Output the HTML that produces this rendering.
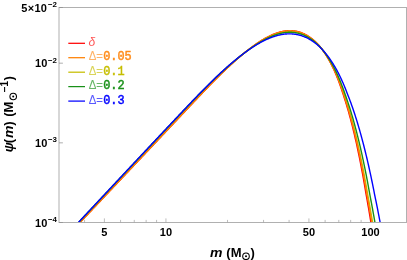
<!DOCTYPE html><html><head><meta charset="utf-8"><style>html,body{margin:0;padding:0;background:#fff}svg{display:block;will-change:transform}</style></head><body><svg width="407" height="260" viewBox="0 0 407 260">
<rect width="407" height="260" fill="#fff"/>
<defs><clipPath id="c"><rect x="59.0" y="7.5" width="347.5" height="214.5"/></clipPath></defs>
<rect x="59.0" y="7.5" width="347.5" height="215.0" fill="none" stroke="#b0b0b0" stroke-width="1"/>
<path d="M104.38,222.5v-4.1M165.95,222.5v-4.1M308.91,222.5v-4.1M370.48,222.5v-4.1M84.55,222.5v-2.6M120.57,222.5v-2.6M134.26,222.5v-2.6M146.13,222.5v-2.6M156.59,222.5v-2.6M227.52,222.5v-2.6M263.54,222.5v-2.6M289.09,222.5v-2.6M325.11,222.5v-2.6M338.80,222.5v-2.6M350.66,222.5v-2.6M361.12,222.5v-2.6" stroke="#a0a0a0" stroke-width="0.7" fill="none"/>
<path d="M59.0,222.50h3.9M59.0,142.84h3.9M59.0,63.18h3.9M59.0,7.50h3.9" stroke="#8c8c8c" stroke-width="0.7" fill="none"/>
<g clip-path="url(#c)" fill="none" stroke-width="1.4" stroke-linejoin="round">
<path d="M69.04,234.09L69.54,233.56L70.04,233.03L70.54,232.50L71.04,231.97L71.54,231.44L72.05,230.90L72.55,230.37L73.05,229.84L73.55,229.31L74.05,228.78L74.55,228.25L75.05,227.72L75.56,227.19L76.06,226.66L76.56,226.13L77.06,225.60L77.56,225.07L78.06,224.54L78.56,224.00L79.07,223.47L79.57,222.94L80.07,222.41L80.57,221.88L81.07,221.35L81.57,220.82L82.07,220.29L82.58,219.76L83.08,219.23L83.58,218.70L84.08,218.17L84.58,217.64L85.08,217.11L85.58,216.57L86.09,216.04L86.59,215.51L87.09,214.98L87.59,214.45L88.09,213.92L88.59,213.39L89.09,212.86L89.60,212.33L90.10,211.80L90.60,211.27L91.10,210.74L91.60,210.21L92.10,209.67L92.60,209.14L93.11,208.61L93.61,208.08L94.11,207.55L94.61,207.02L95.11,206.49L95.61,205.96L96.11,205.43L96.62,204.90L97.12,204.37L97.62,203.84L98.12,203.31L98.62,202.77L99.12,202.24L99.62,201.71L100.13,201.18L100.63,200.65L101.13,200.12L101.63,199.59L102.13,199.06L102.63,198.53L103.13,198.00L103.64,197.47L104.14,196.94L104.64,196.41L105.14,195.87L105.64,195.34L106.14,194.81L106.64,194.28L107.15,193.75L107.65,193.22L108.15,192.69L108.65,192.16L109.15,191.63L109.65,191.10L110.15,190.57L110.66,190.04L111.16,189.51L111.66,188.98L112.16,188.44L112.66,187.91L113.16,187.38L113.66,186.85L114.17,186.32L114.67,185.79L115.17,185.26L115.67,184.73L116.17,184.20L116.67,183.67L117.17,183.14L117.68,182.61L118.18,182.08L118.68,181.54L119.18,181.01L119.68,180.48L120.18,179.95L120.68,179.42L121.19,178.89L121.69,178.36L122.19,177.83L122.69,177.30L123.19,176.77L123.69,176.24L124.19,175.71L124.70,175.18L125.20,174.65L125.70,174.11L126.20,173.58L126.70,173.05L127.20,172.52L127.70,171.99L128.21,171.46L128.71,170.93L129.21,170.40L129.71,169.87L130.21,169.34L130.71,168.81L131.21,168.28L131.72,167.75L132.22,167.21L132.72,166.68L133.22,166.15L133.72,165.62L134.22,165.09L134.72,164.56L135.23,164.03L135.73,163.50L136.23,162.97L136.73,162.44L137.23,161.91L137.73,161.38L138.23,160.85L138.74,160.32L139.24,159.78L139.74,159.25L140.24,158.72L140.74,158.19L141.24,157.66L141.74,157.13L142.25,156.60L142.75,156.07L143.25,155.54L143.75,155.01L144.25,154.48L144.75,153.95L145.25,153.42L145.76,152.88L146.26,152.35L146.76,151.82L147.26,151.29L147.76,150.76L148.26,150.23L148.76,149.70L149.27,149.17L149.77,148.64L150.27,148.11L150.77,147.58L151.27,147.05L151.77,146.51L152.27,145.98L152.78,145.45L153.28,144.92L153.78,144.39L154.28,143.86L154.78,143.33L155.28,142.80L155.78,142.27L156.29,141.74L156.79,141.20L157.29,140.67L157.79,140.14L158.29,139.61L158.79,139.08L159.29,138.55L159.80,138.02L160.30,137.49L160.80,136.95L161.30,136.42L161.80,135.89L162.30,135.36L162.80,134.83L163.31,134.30L163.81,133.77L164.31,133.23L164.81,132.70L165.31,132.17L165.81,131.64L166.31,131.11L166.82,130.58L167.32,130.04L167.82,129.51L168.32,128.98L168.82,128.45L169.32,127.92L169.82,127.38L170.33,126.85L170.83,126.32L171.33,125.79L171.83,125.26L172.33,124.72L172.83,124.19L173.33,123.66L173.84,123.13L174.34,122.59L174.84,122.06L175.34,121.53L175.84,121.00L176.34,120.46L176.84,119.93L177.35,119.40L177.85,118.87L178.35,118.33L178.85,117.80L179.35,117.27L179.85,116.74L180.35,116.20L180.86,115.67L181.36,115.14L181.86,114.61L182.36,114.07L182.86,113.54L183.36,113.01L183.86,112.47L184.37,111.94L184.87,111.41L185.37,110.88L185.87,110.34L186.37,109.81L186.87,109.28L187.37,108.75L187.88,108.21L188.38,107.68L188.88,107.15L189.38,106.62L189.88,106.09L190.38,105.56L190.88,105.02L191.39,104.49L191.89,103.96L192.39,103.43L192.89,102.90L193.39,102.37L193.89,101.84L194.39,101.31L194.90,100.78L195.40,100.25L195.90,99.72L196.40,99.19L196.90,98.66L197.40,98.14L197.90,97.61L198.41,97.08L198.91,96.55L199.41,96.03L199.91,95.50L200.41,94.98L200.91,94.45L201.41,93.93L201.92,93.40L202.42,92.88L202.92,92.35L203.42,91.83L203.92,91.31L204.42,90.79L204.92,90.27L205.43,89.75L205.93,89.23L206.43,88.71L206.93,88.19L207.43,87.67L207.93,87.16L208.43,86.64L208.94,86.13L209.44,85.61L209.94,85.10L210.44,84.59L210.94,84.08L211.44,83.57L211.94,83.06L212.45,82.55L212.95,82.04L213.45,81.53L213.95,81.03L214.45,80.52L214.95,80.02L215.45,79.51L215.96,79.01L216.46,78.51L216.96,78.01L217.46,77.51L217.96,77.02L218.46,76.52L218.96,76.03L219.47,75.53L219.97,75.04L220.47,74.55L220.97,74.06L221.47,73.57L221.97,73.08L222.47,72.60L222.98,72.11L223.48,71.63L223.98,71.15L224.48,70.67L224.98,70.19L225.48,69.71L225.98,69.23L226.49,68.76L226.99,68.29L227.49,67.81L227.99,67.34L228.49,66.87L228.99,66.41L229.49,65.94L230.00,65.48L230.50,65.01L231.00,64.55L231.50,64.09L232.00,63.64L232.50,63.18L233.01,62.73L233.51,62.27L234.01,61.82L234.51,61.37L235.01,60.93L235.51,60.48L236.01,60.04L236.52,59.59L237.02,59.15L237.52,58.72L238.02,58.28L238.52,57.84L239.02,57.41L239.52,56.98L240.03,56.55L240.53,56.13L241.03,55.70L241.53,55.28L242.03,54.86L242.53,54.44L243.03,54.03L243.54,53.61L244.04,53.20L244.54,52.79L245.04,52.38L245.54,51.98L246.04,51.58L246.54,51.18L247.05,50.78L247.55,50.38L248.05,49.99L248.55,49.60L249.05,49.21L249.55,48.83L250.05,48.45L250.56,48.07L251.06,47.69L251.56,47.31L252.06,46.94L252.56,46.57L253.06,46.21L253.56,45.84L254.07,45.48L254.57,45.13L255.07,44.77L255.57,44.42L256.07,44.07L256.57,43.73L257.07,43.39L257.58,43.05L258.08,42.71L258.58,42.38L259.08,42.05L259.58,41.73L260.08,41.41L260.58,41.09L261.09,40.77L261.59,40.46L262.09,40.16L262.59,39.85L263.09,39.55L263.59,39.26L264.09,38.97L264.60,38.68L265.10,38.40L265.60,38.12L266.10,37.84L266.60,37.57L267.10,37.30L267.60,37.04L268.11,36.78L268.61,36.53L269.11,36.28L269.61,36.03L270.11,35.79L270.61,35.56L271.11,35.33L271.62,35.10L272.12,34.88L272.62,34.66L273.12,34.45L273.62,34.24L274.12,34.04L274.62,33.85L275.13,33.65L275.63,33.47L276.13,33.29L276.63,33.11L277.13,32.94L277.63,32.78L278.13,32.62L278.64,32.47L279.14,32.32L279.64,32.18L280.14,32.05L280.64,31.92L281.14,31.79L281.64,31.68L282.15,31.57L282.65,31.46L283.15,31.36L283.65,31.27L284.15,31.19L284.65,31.11L285.15,31.03L285.66,30.97L286.16,30.91L286.66,30.86L287.16,30.81L287.66,30.78L288.16,30.74L288.66,30.72L289.17,30.70L289.67,30.69L290.17,30.69L290.67,30.70L291.17,30.71L291.67,30.73L292.17,30.76L292.68,30.80L293.18,30.84L293.68,30.90L294.18,30.96L294.68,31.02L295.23,31.10L295.73,31.19L296.24,31.28L296.74,31.38L297.25,31.49L297.75,31.61L298.26,31.74L298.77,31.88L299.27,32.02L299.78,32.18L300.29,32.34L300.80,32.52L301.31,32.70L301.82,32.89L302.33,33.10L302.84,33.31L303.35,33.53L303.86,33.76L304.37,34.00L304.88,34.25L305.39,34.52L305.90,34.79L306.42,35.07L306.93,35.36L307.44,35.67L307.96,35.98L308.47,36.31L308.99,36.64L309.50,36.99L310.02,37.35L310.53,37.72L311.05,38.10L311.57,38.50L312.09,38.90L312.60,39.32L313.12,39.75L313.64,40.19L314.16,40.64L314.68,41.11L315.20,41.58L315.72,42.07L316.24,42.58L316.77,43.09L317.29,43.62L317.81,44.17L318.34,44.72L318.85,45.29L319.35,45.87L319.85,46.47L320.34,47.08L320.84,47.71L321.34,48.35L321.84,49.00L322.34,49.67L322.84,50.35L323.34,51.05L323.84,51.76L324.33,52.49L324.83,53.23L325.33,53.99L325.83,54.77L326.33,55.56L326.83,56.36L327.32,57.19L327.82,58.03L328.32,58.88L328.82,59.76L329.32,60.65L329.81,61.55L330.31,62.48L330.81,63.42L331.31,64.38L331.80,65.36L332.30,66.36L332.80,67.37L333.30,68.41L333.79,69.46L334.28,70.53L334.76,71.63L335.24,72.74L335.72,73.87L336.20,75.02L336.68,76.19L337.15,77.39L337.63,78.60L338.11,79.83L338.58,81.09L339.06,82.37L339.53,83.67L340.01,84.99L340.48,86.33L340.96,87.70L341.43,89.09L341.91,90.51L342.38,91.94L342.85,93.40L343.32,94.89L343.82,96.40L344.32,97.94L344.82,99.50L345.33,101.08L345.83,102.69L346.33,104.33L346.83,106.00L347.33,107.69L347.83,109.41L348.33,111.15L348.84,112.93L349.34,114.73L349.84,116.56L350.34,118.42L350.84,120.31L351.34,122.23L351.84,124.18L352.35,126.17L352.85,128.18L353.35,130.22L353.85,132.30L354.35,134.41L354.85,136.55L355.35,138.73L355.86,140.94L356.36,143.18L356.86,145.46L357.36,147.77L357.86,150.12L358.36,152.51L358.86,154.93L359.37,157.39L359.87,159.89L360.37,162.43L360.87,165.00L361.37,167.62L361.87,170.27L362.37,172.97L362.88,175.71L363.38,178.49L363.88,181.31L364.38,184.18L364.88,187.09L365.38,190.05L365.88,193.05L366.41,196.09L366.96,199.19L367.52,202.33L368.08,205.52L368.65,208.75L369.21,212.04L369.77,215.38L370.34,218.77L370.90,222.21L371.44,225.70L371.98,229.25L372.52,232.85" stroke="#ff0000"/>
<path d="M68.54,234.13L69.04,233.59L69.54,233.06L70.04,232.53L70.54,232.00L71.04,231.46L71.54,230.93L72.05,230.40L72.55,229.87L73.05,229.34L73.55,228.80L74.05,228.27L74.55,227.74L75.05,227.21L75.56,226.67L76.06,226.14L76.56,225.61L77.06,225.08L77.56,224.55L78.06,224.01L78.56,223.48L79.07,222.95L79.57,222.42L80.07,221.88L80.57,221.35L81.07,220.82L81.57,220.29L82.07,219.76L82.58,219.22L83.08,218.69L83.58,218.16L84.08,217.63L84.58,217.09L85.08,216.56L85.58,216.03L86.09,215.50L86.59,214.97L87.09,214.43L87.59,213.90L88.09,213.37L88.59,212.84L89.09,212.30L89.60,211.77L90.10,211.24L90.60,210.71L91.10,210.18L91.60,209.64L92.10,209.11L92.60,208.58L93.11,208.05L93.61,207.51L94.11,206.98L94.61,206.45L95.11,205.92L95.61,205.39L96.11,204.85L96.62,204.32L97.12,203.79L97.62,203.26L98.12,202.72L98.62,202.19L99.12,201.66L99.62,201.13L100.13,200.60L100.63,200.06L101.13,199.53L101.63,199.00L102.13,198.47L102.63,197.93L103.13,197.40L103.64,196.87L104.14,196.34L104.64,195.81L105.14,195.27L105.64,194.74L106.14,194.21L106.64,193.68L107.15,193.14L107.65,192.61L108.15,192.08L108.65,191.55L109.15,191.02L109.65,190.48L110.15,189.95L110.66,189.42L111.16,188.89L111.66,188.36L112.16,187.82L112.66,187.29L113.16,186.76L113.66,186.23L114.17,185.69L114.67,185.16L115.17,184.63L115.67,184.10L116.17,183.57L116.67,183.03L117.17,182.50L117.68,181.97L118.18,181.44L118.68,180.90L119.18,180.37L119.68,179.84L120.18,179.31L120.68,178.78L121.19,178.24L121.69,177.71L122.19,177.18L122.69,176.65L123.19,176.12L123.69,175.58L124.19,175.05L124.70,174.52L125.20,173.99L125.70,173.45L126.20,172.92L126.70,172.39L127.20,171.86L127.70,171.33L128.21,170.79L128.71,170.26L129.21,169.73L129.71,169.20L130.21,168.67L130.71,168.13L131.21,167.60L131.72,167.07L132.22,166.54L132.72,166.01L133.22,165.47L133.72,164.94L134.22,164.41L134.72,163.88L135.23,163.35L135.73,162.81L136.23,162.28L136.73,161.75L137.23,161.22L137.73,160.69L138.23,160.15L138.74,159.62L139.24,159.09L139.74,158.56L140.24,158.03L140.74,157.49L141.24,156.96L141.74,156.43L142.25,155.90L142.75,155.37L143.25,154.83L143.75,154.30L144.25,153.77L144.75,153.24L145.25,152.71L145.76,152.17L146.26,151.64L146.76,151.11L147.26,150.58L147.76,150.05L148.26,149.51L148.76,148.98L149.27,148.45L149.77,147.92L150.27,147.39L150.77,146.86L151.27,146.32L151.77,145.79L152.27,145.26L152.78,144.73L153.28,144.20L153.78,143.66L154.28,143.13L154.78,142.60L155.28,142.07L155.78,141.54L156.29,141.00L156.79,140.47L157.29,139.94L157.79,139.41L158.29,138.88L158.79,138.35L159.29,137.81L159.80,137.28L160.30,136.75L160.80,136.22L161.30,135.69L161.80,135.15L162.30,134.62L162.80,134.09L163.31,133.56L163.81,133.03L164.31,132.49L164.81,131.96L165.31,131.43L165.81,130.90L166.31,130.37L166.82,129.83L167.32,129.30L167.82,128.77L168.32,128.24L168.82,127.70L169.32,127.17L169.82,126.64L170.33,126.11L170.83,125.58L171.33,125.04L171.83,124.51L172.33,123.98L172.83,123.45L173.33,122.92L173.84,122.38L174.34,121.85L174.84,121.32L175.34,120.79L175.84,120.25L176.34,119.72L176.84,119.19L177.35,118.66L177.85,118.13L178.35,117.59L178.85,117.06L179.35,116.53L179.85,116.00L180.35,115.47L180.86,114.93L181.36,114.40L181.86,113.87L182.36,113.34L182.86,112.81L183.36,112.27L183.86,111.74L184.37,111.21L184.87,110.68L185.37,110.15L185.87,109.62L186.37,109.09L186.87,108.56L187.37,108.02L187.88,107.49L188.38,106.96L188.88,106.43L189.38,105.90L189.88,105.37L190.38,104.84L190.88,104.31L191.39,103.79L191.89,103.26L192.39,102.73L192.89,102.20L193.39,101.67L193.89,101.14L194.39,100.62L194.90,100.09L195.40,99.56L195.90,99.04L196.40,98.51L196.90,97.98L197.40,97.46L197.90,96.93L198.41,96.41L198.91,95.89L199.41,95.36L199.91,94.84L200.41,94.32L200.91,93.80L201.41,93.27L201.92,92.75L202.42,92.23L202.92,91.71L203.42,91.20L203.92,90.68L204.42,90.16L204.92,89.64L205.43,89.13L205.93,88.61L206.43,88.10L206.93,87.59L207.43,87.07L207.93,86.56L208.43,86.05L208.94,85.54L209.44,85.03L209.94,84.52L210.44,84.02L210.94,83.51L211.44,83.00L211.94,82.50L212.45,82.00L212.95,81.50L213.45,80.99L213.95,80.49L214.45,80.00L214.95,79.50L215.45,79.00L215.96,78.51L216.46,78.01L216.96,77.52L217.46,77.03L217.96,76.54L218.46,76.05L218.96,75.56L219.47,75.07L219.97,74.59L220.47,74.10L220.97,73.62L221.47,73.14L221.97,72.66L222.47,72.18L222.98,71.70L223.48,71.23L223.98,70.76L224.48,70.28L224.98,69.81L225.48,69.34L225.98,68.87L226.49,68.41L226.99,67.94L227.49,67.48L227.99,67.02L228.49,66.56L228.99,66.10L229.49,65.64L230.00,65.19L230.50,64.74L231.00,64.28L231.50,63.83L232.00,63.39L232.50,62.94L233.01,62.49L233.51,62.05L234.01,61.61L234.51,61.17L235.01,60.73L235.51,60.30L236.01,59.87L236.52,59.43L237.02,59.00L237.52,58.58L238.02,58.15L238.52,57.73L239.02,57.31L239.52,56.89L240.03,56.47L240.53,56.05L241.03,55.64L241.53,55.23L242.03,54.82L242.53,54.41L243.03,54.01L243.54,53.61L244.04,53.21L244.54,52.81L245.04,52.41L245.54,52.02L246.04,51.63L246.54,51.24L247.05,50.86L247.55,50.47L248.05,50.09L248.55,49.72L249.05,49.34L249.55,48.97L250.05,48.60L250.56,48.23L251.06,47.86L251.56,47.50L252.06,47.14L252.56,46.79L253.06,46.43L253.56,46.08L254.07,45.73L254.57,45.39L255.07,45.05L255.57,44.71L256.07,44.37L256.57,44.04L257.07,43.71L257.58,43.39L258.08,43.06L258.58,42.75L259.08,42.43L259.58,42.12L260.08,41.81L260.58,41.50L261.09,41.20L261.59,40.90L262.09,40.61L262.59,40.32L263.09,40.03L263.59,39.75L264.09,39.47L264.60,39.19L265.10,38.92L265.60,38.65L266.10,38.39L266.60,38.13L267.10,37.87L267.60,37.62L268.11,37.38L268.61,37.13L269.11,36.90L269.61,36.66L270.11,36.43L270.61,36.21L271.11,35.99L271.62,35.77L272.12,35.56L272.62,35.36L273.12,35.16L273.62,34.96L274.12,34.77L274.62,34.58L275.13,34.40L275.63,34.23L276.13,34.06L276.63,33.89L277.13,33.73L277.63,33.58L278.13,33.43L278.64,33.28L279.14,33.14L279.64,33.01L280.14,32.88L280.64,32.76L281.14,32.65L281.64,32.54L282.15,32.44L282.65,32.34L283.15,32.25L283.65,32.16L284.15,32.08L284.65,32.01L285.15,31.94L285.66,31.88L286.16,31.83L286.66,31.78L287.16,31.74L287.66,31.71L288.16,31.68L288.66,31.66L289.17,31.65L289.67,31.64L290.17,31.64L290.67,31.65L291.17,31.66L291.67,31.69L292.17,31.72L292.68,31.75L293.18,31.80L293.68,31.85L294.18,31.91L294.68,31.98L295.26,32.05L295.77,32.14L296.27,32.23L296.78,32.33L297.29,32.44L297.79,32.55L298.30,32.68L298.80,32.81L299.31,32.95L299.82,33.10L300.33,33.26L300.83,33.42L301.34,33.59L301.85,33.78L302.36,33.97L302.87,34.17L303.38,34.38L303.89,34.60L304.40,34.82L304.91,35.06L305.42,35.31L305.94,35.57L306.45,35.83L306.96,36.11L307.47,36.40L307.99,36.70L308.50,37.00L309.01,37.32L309.53,37.65L310.04,37.99L310.56,38.34L311.07,38.70L311.59,39.07L312.11,39.46L312.63,39.85L313.14,40.26L313.66,40.67L314.18,41.10L314.70,41.54L315.22,41.99L315.74,42.46L316.26,42.93L316.78,43.42L317.30,43.92L317.82,44.44L318.35,44.96L318.85,45.50L319.35,46.05L319.84,46.62L320.34,47.20L320.84,47.79L321.34,48.39L321.84,49.01L322.34,49.64L322.84,50.29L323.34,50.95L323.84,51.62L324.33,52.31L324.83,53.02L325.33,53.74L325.83,54.47L326.33,55.22L326.83,55.98L327.33,56.76L327.82,57.56L328.32,58.37L328.82,59.19L329.32,60.04L329.82,60.90L330.31,61.77L330.81,62.66L331.31,63.57L331.81,64.50L332.31,65.45L332.80,66.41L333.30,67.39L333.80,68.39L334.29,69.40L334.79,70.44L335.27,71.49L335.75,72.56L336.23,73.65L336.70,74.76L337.18,75.89L337.66,77.04L338.14,78.21L338.62,79.41L339.09,80.62L339.57,81.85L340.05,83.10L340.52,84.37L341.00,85.66L341.47,86.97L341.95,88.30L342.42,89.66L342.90,91.03L343.37,92.43L343.84,93.85L344.32,95.30L344.82,96.76L345.33,98.25L345.83,99.77L346.33,101.31L346.83,102.87L347.33,104.46L347.83,106.07L348.33,107.71L348.84,109.38L349.34,111.07L349.84,112.78L350.34,114.53L350.84,116.30L351.34,118.10L351.84,119.92L352.35,121.78L352.85,123.66L353.35,125.57L353.85,127.52L354.35,129.49L354.85,131.49L355.35,133.52L355.86,135.59L356.36,137.68L356.86,139.81L357.36,141.97L357.86,144.16L358.36,146.38L358.86,148.64L359.37,150.93L359.87,153.26L360.37,155.62L360.87,158.02L361.37,160.46L361.87,162.93L362.37,165.44L362.88,167.98L363.38,170.57L363.88,173.19L364.38,175.85L364.88,178.55L365.38,181.30L365.88,184.08L366.39,186.91L366.89,189.77L367.39,192.68L367.90,195.64L368.46,198.64L369.02,201.68L369.58,204.77L370.13,207.91L370.69,211.09L371.26,214.32L371.82,217.60L372.38,220.93L372.93,224.30L373.47,227.73L374.01,231.21" stroke="#c6be00"/>
<path d="M69.04,234.04L69.54,233.51L70.04,232.98L70.54,232.45L71.04,231.92L71.54,231.39L72.05,230.85L72.55,230.32L73.05,229.79L73.55,229.26L74.05,228.73L74.55,228.20L75.05,227.67L75.56,227.14L76.06,226.61L76.56,226.08L77.06,225.55L77.56,225.01L78.06,224.48L78.56,223.95L79.07,223.42L79.57,222.89L80.07,222.36L80.57,221.83L81.07,221.30L81.57,220.77L82.07,220.24L82.58,219.71L83.08,219.17L83.58,218.64L84.08,218.11L84.58,217.58L85.08,217.05L85.58,216.52L86.09,215.99L86.59,215.46L87.09,214.93L87.59,214.40L88.09,213.87L88.59,213.33L89.09,212.80L89.60,212.27L90.10,211.74L90.60,211.21L91.10,210.68L91.60,210.15L92.10,209.62L92.60,209.09L93.11,208.56L93.61,208.03L94.11,207.49L94.61,206.96L95.11,206.43L95.61,205.90L96.11,205.37L96.62,204.84L97.12,204.31L97.62,203.78L98.12,203.25L98.62,202.72L99.12,202.19L99.62,201.65L100.13,201.12L100.63,200.59L101.13,200.06L101.63,199.53L102.13,199.00L102.63,198.47L103.13,197.94L103.64,197.41L104.14,196.88L104.64,196.35L105.14,195.81L105.64,195.28L106.14,194.75L106.64,194.22L107.15,193.69L107.65,193.16L108.15,192.63L108.65,192.10L109.15,191.57L109.65,191.04L110.15,190.51L110.66,189.97L111.16,189.44L111.66,188.91L112.16,188.38L112.66,187.85L113.16,187.32L113.66,186.79L114.17,186.26L114.67,185.73L115.17,185.20L115.67,184.67L116.17,184.14L116.67,183.60L117.17,183.07L117.68,182.54L118.18,182.01L118.68,181.48L119.18,180.95L119.68,180.42L120.18,179.89L120.68,179.36L121.19,178.83L121.69,178.30L122.19,177.76L122.69,177.23L123.19,176.70L123.69,176.17L124.19,175.64L124.70,175.11L125.20,174.58L125.70,174.05L126.20,173.52L126.70,172.99L127.20,172.46L127.70,171.92L128.21,171.39L128.71,170.86L129.21,170.33L129.71,169.80L130.21,169.27L130.71,168.74L131.21,168.21L131.72,167.68L132.22,167.15L132.72,166.62L133.22,166.09L133.72,165.55L134.22,165.02L134.72,164.49L135.23,163.96L135.73,163.43L136.23,162.90L136.73,162.37L137.23,161.84L137.73,161.31L138.23,160.78L138.74,160.25L139.24,159.72L139.74,159.18L140.24,158.65L140.74,158.12L141.24,157.59L141.74,157.06L142.25,156.53L142.75,156.00L143.25,155.47L143.75,154.94L144.25,154.41L144.75,153.88L145.25,153.34L145.76,152.81L146.26,152.28L146.76,151.75L147.26,151.22L147.76,150.69L148.26,150.16L148.76,149.63L149.27,149.10L149.77,148.57L150.27,148.04L150.77,147.50L151.27,146.97L151.77,146.44L152.27,145.91L152.78,145.38L153.28,144.85L153.78,144.32L154.28,143.79L154.78,143.26L155.28,142.72L155.78,142.19L156.29,141.66L156.79,141.13L157.29,140.60L157.79,140.07L158.29,139.54L158.79,139.01L159.29,138.48L159.80,137.94L160.30,137.41L160.80,136.88L161.30,136.35L161.80,135.82L162.30,135.29L162.80,134.76L163.31,134.22L163.81,133.69L164.31,133.16L164.81,132.63L165.31,132.10L165.81,131.57L166.31,131.03L166.82,130.50L167.32,129.97L167.82,129.44L168.32,128.91L168.82,128.37L169.32,127.84L169.82,127.31L170.33,126.78L170.83,126.25L171.33,125.71L171.83,125.18L172.33,124.65L172.83,124.12L173.33,123.59L173.84,123.05L174.34,122.52L174.84,121.99L175.34,121.46L175.84,120.92L176.34,120.39L176.84,119.86L177.35,119.33L177.85,118.79L178.35,118.26L178.85,117.73L179.35,117.19L179.85,116.66L180.35,116.13L180.86,115.60L181.36,115.06L181.86,114.53L182.36,114.00L182.86,113.47L183.36,112.93L183.86,112.40L184.37,111.87L184.87,111.34L185.37,110.80L185.87,110.27L186.37,109.74L186.87,109.21L187.37,108.67L187.88,108.14L188.38,107.61L188.88,107.08L189.38,106.55L189.88,106.02L190.38,105.48L190.88,104.95L191.39,104.42L191.89,103.89L192.39,103.36L192.89,102.83L193.39,102.30L193.89,101.77L194.39,101.24L194.90,100.71L195.40,100.18L195.90,99.65L196.40,99.12L196.90,98.60L197.40,98.07L197.90,97.54L198.41,97.01L198.91,96.49L199.41,95.96L199.91,95.44L200.41,94.91L200.91,94.38L201.41,93.86L201.92,93.34L202.42,92.81L202.92,92.29L203.42,91.77L203.92,91.25L204.42,90.73L204.92,90.21L205.43,89.69L205.93,89.17L206.43,88.65L206.93,88.13L207.43,87.61L207.93,87.10L208.43,86.58L208.94,86.07L209.44,85.56L209.94,85.04L210.44,84.53L210.94,84.02L211.44,83.51L211.94,83.00L212.45,82.49L212.95,81.98L213.45,81.48L213.95,80.97L214.45,80.47L214.95,79.97L215.45,79.46L215.96,78.96L216.46,78.46L216.96,77.96L217.46,77.47L217.96,76.97L218.46,76.47L218.96,75.98L219.47,75.49L219.97,75.00L220.47,74.50L220.97,74.02L221.47,73.53L221.97,73.04L222.47,72.56L222.98,72.07L223.48,71.59L223.98,71.11L224.48,70.63L224.98,70.15L225.48,69.67L225.98,69.20L226.49,68.72L226.99,68.25L227.49,67.78L227.99,67.31L228.49,66.84L228.99,66.38L229.49,65.91L230.00,65.45L230.50,64.99L231.00,64.53L231.50,64.07L232.00,63.61L232.50,63.16L233.01,62.70L233.51,62.25L234.01,61.80L234.51,61.35L235.01,60.91L235.51,60.46L236.01,60.02L236.52,59.58L237.02,59.14L237.52,58.70L238.02,58.27L238.52,57.83L239.02,57.40L239.52,56.97L240.03,56.55L240.53,56.12L241.03,55.70L241.53,55.28L242.03,54.86L242.53,54.44L243.03,54.02L243.54,53.61L244.04,53.20L244.54,52.79L245.04,52.39L245.54,51.98L246.04,51.58L246.54,51.18L247.05,50.79L247.55,50.39L248.05,50.00L248.55,49.61L249.05,49.23L249.55,48.84L250.05,48.46L250.56,48.08L251.06,47.71L251.56,47.33L252.06,46.96L252.56,46.60L253.06,46.23L253.56,45.87L254.07,45.51L254.57,45.15L255.07,44.80L255.57,44.45L256.07,44.10L256.57,43.76L257.07,43.42L257.58,43.08L258.08,42.75L258.58,42.42L259.08,42.09L259.58,41.77L260.08,41.45L260.58,41.13L261.09,40.82L261.59,40.51L262.09,40.20L262.59,39.90L263.09,39.60L263.59,39.31L264.09,39.02L264.60,38.73L265.10,38.45L265.60,38.17L266.10,37.90L266.60,37.63L267.10,37.36L267.60,37.10L268.11,36.84L268.61,36.59L269.11,36.34L269.61,36.10L270.11,35.86L270.61,35.62L271.11,35.39L271.62,35.17L272.12,34.95L272.62,34.73L273.12,34.52L273.62,34.31L274.12,34.11L274.62,33.92L275.13,33.73L275.63,33.54L276.13,33.36L276.63,33.19L277.13,33.02L277.63,32.86L278.13,32.70L278.64,32.55L279.14,32.40L279.64,32.26L280.14,32.13L280.64,32.00L281.14,31.88L281.64,31.76L282.15,31.65L282.65,31.55L283.15,31.45L283.65,31.36L284.15,31.28L284.65,31.20L285.15,31.13L285.66,31.06L286.16,31.00L286.66,30.95L287.16,30.91L287.66,30.87L288.16,30.84L288.66,30.81L289.17,30.80L289.67,30.79L290.17,30.79L290.67,30.79L291.17,30.81L291.67,30.83L292.17,30.86L292.68,30.89L293.18,30.94L293.68,30.99L294.18,31.05L294.68,31.12L295.23,31.20L295.74,31.28L296.24,31.37L296.75,31.48L297.25,31.59L297.76,31.71L298.26,31.83L298.77,31.97L299.28,32.12L299.79,32.27L300.29,32.44L300.80,32.61L301.31,32.80L301.82,32.99L302.33,33.20L302.84,33.41L303.35,33.64L303.86,33.87L304.37,34.11L304.88,34.37L305.40,34.63L305.91,34.90L306.42,35.19L306.93,35.48L307.45,35.79L307.96,36.10L308.48,36.43L308.99,36.76L309.51,37.11L310.02,37.47L310.54,37.84L311.06,38.22L311.57,38.61L312.09,39.01L312.61,39.43L313.13,39.85L313.65,40.29L314.17,40.74L314.68,41.20L315.21,41.68L315.73,42.16L316.25,42.66L316.77,43.17L317.29,43.70L317.81,44.23L318.34,44.78L318.85,45.35L319.35,45.92L319.85,46.51L320.34,47.11L320.84,47.73L321.34,48.36L321.84,49.00L322.34,49.66L322.84,50.33L323.34,51.02L323.84,51.72L324.33,52.43L324.83,53.16L325.33,53.91L325.83,54.67L326.33,55.44L326.83,56.23L327.32,57.03L327.82,57.86L328.32,58.69L328.82,59.55L329.32,60.41L329.81,61.30L330.31,62.20L330.81,63.12L331.31,64.06L331.81,65.01L332.30,65.98L332.80,66.97L333.30,67.97L333.80,68.99L334.29,70.04L334.77,71.09L335.25,72.17L335.73,73.27L336.21,74.38L336.69,75.52L337.17,76.67L337.65,77.84L338.12,79.04L338.60,80.25L339.08,81.48L339.55,82.74L340.03,84.01L340.50,85.31L340.98,86.64L341.45,87.99L341.93,89.36L342.40,90.75L342.87,92.17L343.35,93.61L343.82,95.07L344.32,96.56L344.82,98.07L345.33,99.61L345.83,101.17L346.33,102.75L346.83,104.37L347.33,106.00L347.83,107.67L348.33,109.36L348.84,111.07L349.34,112.82L349.84,114.59L350.34,116.39L350.84,118.22L351.34,120.08L351.84,121.96L352.35,123.88L352.85,125.82L353.35,127.80L353.85,129.80L354.35,131.84L354.85,133.91L355.35,136.01L355.86,138.14L356.36,140.31L356.86,142.51L357.36,144.74L357.86,147.01L358.36,149.31L358.86,151.65L359.37,154.02L359.87,156.43L360.37,158.88L360.87,161.36L361.37,163.88L361.87,166.44L362.37,169.04L362.88,171.68L363.38,174.36L363.88,177.07L364.38,179.83L364.88,182.64L365.38,185.48L365.88,188.37L366.39,191.30L366.89,194.28L367.43,197.30L367.99,200.36L368.55,203.48L369.11,206.64L369.67,209.84L370.23,213.10L370.79,216.41L371.36,219.76L371.91,223.17L372.45,226.63L372.99,230.14L373.53,233.71" stroke="#ff7f00"/>
<path d="M67.53,234.21L68.03,233.67L68.54,233.14L69.04,232.60L69.54,232.06L70.04,231.53L70.54,230.99L71.04,230.46L71.54,229.92L72.05,229.39L72.55,228.85L73.05,228.32L73.55,227.78L74.05,227.25L74.55,226.71L75.05,226.18L75.56,225.64L76.06,225.11L76.56,224.57L77.06,224.04L77.56,223.50L78.06,222.97L78.56,222.43L79.07,221.90L79.57,221.36L80.07,220.83L80.57,220.29L81.07,219.76L81.57,219.22L82.07,218.69L82.58,218.15L83.08,217.62L83.58,217.08L84.08,216.55L84.58,216.01L85.08,215.48L85.58,214.94L86.09,214.41L86.59,213.87L87.09,213.34L87.59,212.80L88.09,212.26L88.59,211.73L89.09,211.19L89.60,210.66L90.10,210.12L90.60,209.59L91.10,209.05L91.60,208.52L92.10,207.98L92.60,207.45L93.11,206.91L93.61,206.38L94.11,205.84L94.61,205.31L95.11,204.77L95.61,204.24L96.11,203.70L96.62,203.17L97.12,202.63L97.62,202.10L98.12,201.56L98.62,201.03L99.12,200.49L99.62,199.96L100.13,199.42L100.63,198.89L101.13,198.35L101.63,197.82L102.13,197.28L102.63,196.75L103.13,196.21L103.64,195.68L104.14,195.14L104.64,194.61L105.14,194.07L105.64,193.54L106.14,193.00L106.64,192.47L107.15,191.93L107.65,191.40L108.15,190.86L108.65,190.33L109.15,189.79L109.65,189.25L110.15,188.72L110.66,188.18L111.16,187.65L111.66,187.11L112.16,186.58L112.66,186.04L113.16,185.51L113.66,184.97L114.17,184.44L114.67,183.90L115.17,183.37L115.67,182.83L116.17,182.30L116.67,181.76L117.17,181.23L117.68,180.69L118.18,180.16L118.68,179.62L119.18,179.09L119.68,178.55L120.18,178.02L120.68,177.48L121.19,176.95L121.69,176.41L122.19,175.88L122.69,175.34L123.19,174.81L123.69,174.27L124.19,173.74L124.70,173.21L125.20,172.67L125.70,172.14L126.20,171.60L126.70,171.07L127.20,170.53L127.70,170.00L128.21,169.46L128.71,168.93L129.21,168.39L129.71,167.86L130.21,167.32L130.71,166.79L131.21,166.25L131.72,165.72L132.22,165.18L132.72,164.65L133.22,164.11L133.72,163.58L134.22,163.04L134.72,162.51L135.23,161.98L135.73,161.44L136.23,160.91L136.73,160.37L137.23,159.84L137.73,159.30L138.23,158.77L138.74,158.23L139.24,157.70L139.74,157.16L140.24,156.63L140.74,156.10L141.24,155.56L141.74,155.03L142.25,154.49L142.75,153.96L143.25,153.42L143.75,152.89L144.25,152.36L144.75,151.82L145.25,151.29L145.76,150.75L146.26,150.22L146.76,149.68L147.26,149.15L147.76,148.62L148.26,148.08L148.76,147.55L149.27,147.01L149.77,146.48L150.27,145.95L150.77,145.41L151.27,144.88L151.77,144.35L152.27,143.81L152.78,143.28L153.28,142.74L153.78,142.21L154.28,141.68L154.78,141.14L155.28,140.61L155.78,140.08L156.29,139.54L156.79,139.01L157.29,138.48L157.79,137.94L158.29,137.41L158.79,136.88L159.29,136.34L159.80,135.81L160.30,135.28L160.80,134.74L161.30,134.21L161.80,133.68L162.30,133.14L162.80,132.61L163.31,132.08L163.81,131.54L164.31,131.01L164.81,130.48L165.31,129.95L165.81,129.41L166.31,128.88L166.82,128.35L167.32,127.81L167.82,127.28L168.32,126.75L168.82,126.22L169.32,125.68L169.82,125.15L170.33,124.62L170.83,124.09L171.33,123.56L171.83,123.02L172.33,122.49L172.83,121.96L173.33,121.43L173.84,120.90L174.34,120.36L174.84,119.83L175.34,119.30L175.84,118.77L176.34,118.24L176.84,117.71L177.35,117.17L177.85,116.64L178.35,116.11L178.85,115.58L179.35,115.05L179.85,114.52L180.35,113.99L180.86,113.46L181.36,112.93L181.86,112.40L182.36,111.87L182.86,111.34L183.36,110.81L183.86,110.28L184.37,109.75L184.87,109.22L185.37,108.69L185.87,108.16L186.37,107.64L186.87,107.11L187.37,106.58L187.88,106.05L188.38,105.53L188.88,105.00L189.38,104.47L189.88,103.95L190.38,103.42L190.88,102.90L191.39,102.37L191.89,101.85L192.39,101.32L192.89,100.80L193.39,100.27L193.89,99.75L194.39,99.23L194.90,98.71L195.40,98.18L195.90,97.66L196.40,97.14L196.90,96.62L197.40,96.10L197.90,95.58L198.41,95.07L198.91,94.55L199.41,94.03L199.91,93.52L200.41,93.00L200.91,92.49L201.41,91.97L201.92,91.46L202.42,90.95L202.92,90.44L203.42,89.92L203.92,89.41L204.42,88.91L204.92,88.40L205.43,87.89L205.93,87.38L206.43,86.88L206.93,86.37L207.43,85.87L207.93,85.37L208.43,84.87L208.94,84.37L209.44,83.87L209.94,83.37L210.44,82.87L210.94,82.38L211.44,81.88L211.94,81.39L212.45,80.90L212.95,80.41L213.45,79.92L213.95,79.43L214.45,78.94L214.95,78.46L215.45,77.98L215.96,77.50L216.46,77.02L216.96,76.55L217.46,76.08L217.96,75.60L218.46,75.13L218.96,74.66L219.47,74.19L219.97,73.73L220.47,73.26L220.97,72.80L221.47,72.34L221.97,71.87L222.47,71.41L222.98,70.96L223.48,70.50L223.98,70.04L224.48,69.59L224.98,69.14L225.48,68.69L225.98,68.24L226.49,67.79L226.99,67.34L227.49,66.90L227.99,66.46L228.49,66.01L228.99,65.58L229.49,65.14L230.00,64.70L230.50,64.27L231.00,63.83L231.50,63.40L232.00,62.97L232.50,62.54L233.01,62.12L233.51,61.69L234.01,61.27L234.51,60.85L235.01,60.43L235.51,60.01L236.01,59.60L236.52,59.19L237.02,58.77L237.52,58.36L238.02,57.96L238.52,57.55L239.02,57.15L239.52,56.74L240.03,56.34L240.53,55.95L241.03,55.55L241.53,55.16L242.03,54.76L242.53,54.37L243.03,53.99L243.54,53.60L244.04,53.22L244.54,52.84L245.04,52.46L245.54,52.08L246.04,51.70L246.54,51.33L247.05,50.96L247.55,50.59L248.05,50.23L248.55,49.87L249.05,49.50L249.55,49.15L250.05,48.79L250.56,48.44L251.06,48.09L251.56,47.74L252.06,47.39L252.56,47.05L253.06,46.71L253.56,46.37L254.07,46.04L254.57,45.70L255.07,45.37L255.57,45.05L256.07,44.72L256.57,44.40L257.07,44.08L257.58,43.77L258.08,43.46L258.58,43.15L259.08,42.84L259.58,42.54L260.08,42.24L260.58,41.94L261.09,41.65L261.59,41.36L262.09,41.07L262.59,40.79L263.09,40.51L263.59,40.24L264.09,39.96L264.60,39.70L265.10,39.43L265.60,39.17L266.10,38.91L266.60,38.66L267.10,38.41L267.60,38.16L268.11,37.92L268.61,37.68L269.11,37.45L269.61,37.22L270.11,36.99L270.61,36.77L271.11,36.55L271.62,36.34L272.12,36.13L272.62,35.93L273.12,35.73L273.62,35.53L274.12,35.34L274.62,35.16L275.13,34.98L275.63,34.80L276.13,34.63L276.63,34.46L277.13,34.30L277.63,34.15L278.13,33.99L278.64,33.85L279.14,33.71L279.64,33.57L280.14,33.44L280.64,33.33L281.14,33.22L281.64,33.11L282.15,33.02L282.65,32.92L283.15,32.84L283.65,32.75L284.15,32.68L284.65,32.61L285.15,32.55L285.66,32.49L286.16,32.44L286.66,32.40L287.16,32.36L287.66,32.33L288.16,32.31L288.66,32.29L289.17,32.28L289.67,32.27L290.17,32.28L290.67,32.28L291.17,32.30L291.67,32.32L292.17,32.36L292.68,32.39L293.18,32.44L293.68,32.49L294.18,32.55L294.68,32.62L295.29,32.69L295.79,32.77L296.30,32.86L296.81,32.96L297.31,33.07L297.82,33.18L298.32,33.30L298.83,33.43L299.34,33.57L299.84,33.71L300.35,33.87L300.86,34.03L301.37,34.20L301.88,34.38L302.39,34.57L302.89,34.77L303.40,34.97L303.91,35.19L304.42,35.41L304.94,35.64L305.45,35.88L305.96,36.13L306.47,36.39L306.98,36.66L307.49,36.94L308.01,37.23L308.52,37.53L309.03,37.84L309.55,38.16L310.06,38.48L310.58,38.82L311.09,39.17L311.61,39.53L312.13,39.90L312.64,40.28L313.16,40.67L313.68,41.07L314.19,41.48L314.71,41.90L315.23,42.33L315.75,42.78L316.27,43.23L316.79,43.70L317.31,44.18L317.83,44.67L318.35,45.17L318.85,45.68L319.34,46.21L319.84,46.75L320.34,47.30L320.84,47.86L321.34,48.43L321.84,49.02L322.34,49.62L322.84,50.23L323.34,50.86L323.84,51.50L324.34,52.15L324.83,52.81L325.33,53.49L325.83,54.18L326.33,54.89L326.83,55.61L327.33,56.34L327.83,57.09L328.32,57.85L328.82,58.63L329.32,59.42L329.82,60.22L330.32,61.04L330.82,61.88L331.31,62.73L331.81,63.60L332.31,64.48L332.81,65.38L333.30,66.29L333.80,67.22L334.30,68.17L334.80,69.13L335.29,70.11L335.77,71.11L336.26,72.12L336.74,73.16L337.22,74.20L337.70,75.27L338.18,76.35L338.66,77.46L339.14,78.58L339.61,79.71L340.09,80.87L340.57,82.05L341.05,83.24L341.52,84.46L342.00,85.69L342.48,86.95L342.95,88.22L343.43,89.51L343.90,90.83L344.38,92.16L344.85,93.52L345.33,94.90L345.83,96.30L346.33,97.72L346.83,99.16L347.33,100.63L347.83,102.11L348.33,103.62L348.84,105.16L349.34,106.72L349.84,108.30L350.34,109.90L350.84,111.53L351.34,113.18L351.84,114.86L352.35,116.57L352.85,118.29L353.35,120.05L353.85,121.83L354.35,123.64L354.85,125.47L355.35,127.34L355.86,129.22L356.36,131.14L356.86,133.09L357.36,135.06L357.86,137.07L358.36,139.10L358.86,141.16L359.37,143.25L359.87,145.38L360.37,147.53L360.87,149.72L361.37,151.94L361.87,154.19L362.37,156.47L362.88,158.78L363.38,161.13L363.88,163.52L364.38,165.94L364.88,168.39L365.38,170.88L365.88,173.40L366.39,175.96L366.89,178.56L367.39,181.20L367.89,183.87L368.39,186.59L368.89,189.34L369.39,192.13L369.90,194.96L370.45,197.84L371.00,200.75L371.56,203.71L372.12,206.71L372.68,209.75L373.23,212.84L373.79,215.97L374.35,219.15L374.91,222.37L375.45,225.64L375.99,228.96L376.53,232.32" stroke="#189018"/>
<path d="M67.53,234.04L68.03,233.51L68.54,232.97L69.04,232.43L69.54,231.90L70.04,231.36L70.54,230.83L71.04,230.29L71.54,229.76L72.05,229.22L72.55,228.69L73.05,228.15L73.55,227.61L74.05,227.08L74.55,226.54L75.05,226.01L75.56,225.47L76.06,224.94L76.56,224.40L77.06,223.86L77.56,223.33L78.06,222.79L78.56,222.26L79.07,221.72L79.57,221.19L80.07,220.65L80.57,220.12L81.07,219.58L81.57,219.04L82.07,218.51L82.58,217.97L83.08,217.44L83.58,216.90L84.08,216.37L84.58,215.83L85.08,215.29L85.58,214.76L86.09,214.22L86.59,213.69L87.09,213.15L87.59,212.62L88.09,212.08L88.59,211.55L89.09,211.01L89.60,210.47L90.10,209.94L90.60,209.40L91.10,208.87L91.60,208.33L92.10,207.80L92.60,207.26L93.11,206.72L93.61,206.19L94.11,205.65L94.61,205.12L95.11,204.58L95.61,204.05L96.11,203.51L96.62,202.98L97.12,202.44L97.62,201.90L98.12,201.37L98.62,200.83L99.12,200.30L99.62,199.76L100.13,199.23L100.63,198.69L101.13,198.15L101.63,197.62L102.13,197.08L102.63,196.55L103.13,196.01L103.64,195.48L104.14,194.94L104.64,194.41L105.14,193.87L105.64,193.33L106.14,192.80L106.64,192.26L107.15,191.73L107.65,191.19L108.15,190.66L108.65,190.12L109.15,189.59L109.65,189.05L110.15,188.51L110.66,187.98L111.16,187.44L111.66,186.91L112.16,186.37L112.66,185.84L113.16,185.30L113.66,184.77L114.17,184.23L114.67,183.69L115.17,183.16L115.67,182.62L116.17,182.09L116.67,181.55L117.17,181.02L117.68,180.48L118.18,179.95L118.68,179.41L119.18,178.88L119.68,178.34L120.18,177.80L120.68,177.27L121.19,176.73L121.69,176.20L122.19,175.66L122.69,175.13L123.19,174.59L123.69,174.06L124.19,173.52L124.70,172.99L125.20,172.45L125.70,171.92L126.20,171.38L126.70,170.84L127.20,170.31L127.70,169.77L128.21,169.24L128.71,168.70L129.21,168.17L129.71,167.63L130.21,167.10L130.71,166.56L131.21,166.03L131.72,165.49L132.22,164.96L132.72,164.42L133.22,163.89L133.72,163.35L134.22,162.82L134.72,162.28L135.23,161.75L135.73,161.21L136.23,160.68L136.73,160.14L137.23,159.61L137.73,159.07L138.23,158.54L138.74,158.00L139.24,157.47L139.74,156.93L140.24,156.40L140.74,155.86L141.24,155.33L141.74,154.79L142.25,154.26L142.75,153.72L143.25,153.19L143.75,152.65L144.25,152.12L144.75,151.59L145.25,151.05L145.76,150.52L146.26,149.98L146.76,149.45L147.26,148.91L147.76,148.38L148.26,147.84L148.76,147.31L149.27,146.78L149.77,146.24L150.27,145.71L150.77,145.17L151.27,144.64L151.77,144.10L152.27,143.57L152.78,143.04L153.28,142.50L153.78,141.97L154.28,141.43L154.78,140.90L155.28,140.37L155.78,139.83L156.29,139.30L156.79,138.77L157.29,138.23L157.79,137.70L158.29,137.16L158.79,136.63L159.29,136.10L159.80,135.56L160.30,135.03L160.80,134.50L161.30,133.96L161.80,133.43L162.30,132.90L162.80,132.36L163.31,131.83L163.81,131.30L164.31,130.76L164.81,130.23L165.31,129.70L165.81,129.17L166.31,128.63L166.82,128.10L167.32,127.57L167.82,127.03L168.32,126.50L168.82,125.97L169.32,125.44L169.82,124.90L170.33,124.37L170.83,123.84L171.33,123.31L171.83,122.77L172.33,122.24L172.83,121.71L173.33,121.18L173.84,120.65L174.34,120.12L174.84,119.58L175.34,119.05L175.84,118.52L176.34,117.99L176.84,117.46L177.35,116.93L177.85,116.40L178.35,115.87L178.85,115.33L179.35,114.80L179.85,114.27L180.35,113.74L180.86,113.21L181.36,112.68L181.86,112.15L182.36,111.62L182.86,111.09L183.36,110.57L183.86,110.04L184.37,109.51L184.87,108.98L185.37,108.45L185.87,107.92L186.37,107.40L186.87,106.87L187.37,106.34L187.88,105.81L188.38,105.29L188.88,104.76L189.38,104.23L189.88,103.71L190.38,103.18L190.88,102.66L191.39,102.13L191.89,101.61L192.39,101.09L192.89,100.56L193.39,100.04L193.89,99.52L194.39,99.00L194.90,98.48L195.40,97.95L195.90,97.43L196.40,96.92L196.90,96.40L197.40,95.88L197.90,95.36L198.41,94.84L198.91,94.33L199.41,93.81L199.91,93.30L200.41,92.78L200.91,92.27L201.41,91.76L201.92,91.24L202.42,90.73L202.92,90.22L203.42,89.71L203.92,89.20L204.42,88.70L204.92,88.19L205.43,87.68L205.93,87.18L206.43,86.67L206.93,86.17L207.43,85.67L207.93,85.17L208.43,84.67L208.94,84.17L209.44,83.67L209.94,83.18L210.44,82.68L210.94,82.19L211.44,81.70L211.94,81.21L212.45,80.72L212.95,80.23L213.45,79.74L213.95,79.25L214.45,78.77L214.95,78.28L215.45,77.80L215.96,77.32L216.46,76.84L216.96,76.37L217.46,75.89L217.96,75.41L218.46,74.94L218.96,74.47L219.47,74.00L219.97,73.53L220.47,73.06L220.97,72.60L221.47,72.13L221.97,71.67L222.47,71.21L222.98,70.75L223.48,70.30L223.98,69.84L224.48,69.39L224.98,68.94L225.48,68.48L225.98,68.04L226.49,67.59L226.99,67.15L227.49,66.70L227.99,66.26L228.49,65.82L228.99,65.39L229.49,64.95L230.00,64.52L230.50,64.08L231.00,63.65L231.50,63.23L232.00,62.80L232.50,62.38L233.01,61.96L233.51,61.54L234.01,61.12L234.51,60.70L235.01,60.29L235.51,59.88L236.01,59.47L236.52,59.06L237.02,58.66L237.52,58.25L238.02,57.85L238.52,57.46L239.02,57.06L239.52,56.67L240.03,56.27L240.53,55.88L241.03,55.50L241.53,55.11L242.03,54.73L242.53,54.35L243.03,53.97L243.54,53.60L244.04,53.22L244.54,52.85L245.04,52.49L245.54,52.12L246.04,51.76L246.54,51.40L247.05,51.04L247.55,50.68L248.05,50.33L248.55,49.98L249.05,49.64L249.55,49.29L250.05,48.95L250.56,48.61L251.06,48.27L251.56,47.94L252.06,47.61L252.56,47.28L253.06,46.96L253.56,46.64L254.07,46.32L254.57,46.00L255.07,45.69L255.57,45.38L256.07,45.08L256.57,44.77L257.07,44.47L257.58,44.18L258.08,43.88L258.58,43.59L259.08,43.31L259.58,43.02L260.08,42.74L260.58,42.47L261.09,42.20L261.59,41.93L262.09,41.66L262.59,41.40L263.09,41.14L263.59,40.89L264.09,40.63L264.60,40.39L265.10,40.14L265.60,39.91L266.10,39.67L266.60,39.44L267.10,39.21L267.60,38.99L268.11,38.77L268.61,38.55L269.11,38.34L269.61,38.13L270.11,37.93L270.61,37.73L271.11,37.54L271.62,37.35L272.12,37.16L272.62,36.98L273.12,36.81L273.62,36.64L274.12,36.47L274.62,36.31L275.13,36.15L275.63,36.00L276.13,35.85L276.63,35.71L277.13,35.57L277.63,35.43L278.13,35.31L278.64,35.18L279.14,35.06L279.64,34.95L280.14,34.84L280.64,34.74L281.14,34.64L281.64,34.55L282.15,34.46L282.65,34.38L283.15,34.31L283.65,34.24L284.15,34.17L284.65,34.11L285.15,34.06L285.66,34.01L286.16,33.97L286.66,33.94L287.16,33.91L287.66,33.88L288.16,33.86L288.66,33.85L289.17,33.85L289.67,33.85L290.17,33.85L290.67,33.87L291.17,33.89L291.67,33.91L292.17,33.95L292.68,33.98L293.18,34.03L293.68,34.08L294.18,34.14L294.68,34.21L295.35,34.28L295.86,34.36L296.36,34.44L296.87,34.54L297.37,34.64L297.88,34.74L298.39,34.86L298.89,34.98L299.40,35.11L299.91,35.24L300.41,35.39L300.92,35.54L301.43,35.70L301.94,35.86L302.44,36.04L302.95,36.22L303.46,36.41L303.97,36.60L304.48,36.81L304.99,37.02L305.50,37.24L306.01,37.47L306.52,37.71L307.03,37.96L307.55,38.21L308.06,38.47L308.57,38.75L309.08,39.03L309.60,39.31L310.11,39.61L310.62,39.92L311.14,40.23L311.65,40.56L312.17,40.89L312.68,41.23L313.20,41.58L313.71,41.94L314.23,42.31L314.74,42.69L315.26,43.08L315.78,43.48L316.30,43.89L316.81,44.31L317.33,44.73L317.84,45.17L318.34,45.62L318.84,46.08L319.34,46.54L319.84,47.02L320.34,47.51L320.84,48.01L321.34,48.52L321.84,49.04L322.34,49.57L322.84,50.11L323.34,50.67L323.84,51.23L324.34,51.81L324.84,52.39L325.33,52.99L325.83,53.60L326.33,54.22L326.83,54.86L327.33,55.50L327.83,56.16L328.33,56.83L328.83,57.51L329.33,58.20L329.82,58.90L330.32,59.62L330.82,60.35L331.32,61.10L331.82,61.85L332.32,62.62L332.81,63.40L333.31,64.20L333.81,65.01L334.31,65.83L334.81,66.67L335.31,67.52L335.80,68.38L336.30,69.26L336.80,70.15L337.28,71.05L337.76,71.97L338.25,72.91L338.73,73.86L339.21,74.82L339.69,75.80L340.17,76.80L340.66,77.81L341.14,78.83L341.62,79.87L342.10,80.93L342.58,82.00L343.06,83.09L343.54,84.20L344.01,85.32L344.49,86.46L344.97,87.62L345.45,88.79L345.93,89.98L346.40,91.18L346.88,92.41L347.36,93.65L347.83,94.91L348.33,96.19L348.84,97.49L349.34,98.80L349.84,100.13L350.34,101.49L350.84,102.86L351.34,104.25L351.84,105.66L352.35,107.09L352.85,108.54L353.35,110.01L353.85,111.50L354.35,113.01L354.85,114.55L355.35,116.10L355.86,117.68L356.36,119.27L356.86,120.89L357.36,122.53L357.86,124.19L358.36,125.88L358.86,127.59L359.37,129.32L359.87,131.07L360.37,132.85L360.87,134.66L361.37,136.48L361.87,138.33L362.37,140.21L362.88,142.11L363.38,144.04L363.88,145.99L364.38,147.97L364.88,149.97L365.38,152.01L365.88,154.06L366.39,156.15L366.89,158.26L367.39,160.40L367.89,162.57L368.39,164.77L368.89,167.00L369.39,169.26L369.90,171.54L370.40,173.86L370.90,176.21L371.40,178.59L371.90,181.00L372.40,183.44L372.90,185.91L373.41,188.42L373.91,190.96L374.41,193.53L374.93,196.14L375.48,198.78L376.03,201.45L376.58,204.16L377.14,206.91L377.69,209.69L378.24,212.51L378.80,215.37L379.35,218.26L379.91,221.19L380.45,224.16L380.98,227.17L381.52,230.22L382.05,233.31" stroke="#0000ff"/>
</g>
<g font-family="Liberation Sans, sans-serif" font-weight="bold" font-size="11" fill="#000">
<text x="104.4" y="236" text-anchor="middle">5</text>
<text x="165.9" y="236" text-anchor="middle">10</text>
<text x="308.9" y="236" text-anchor="middle">50</text>
<text x="370.5" y="236" text-anchor="middle">100</text>
<text x="47.3" y="11.6" text-anchor="end" letter-spacing="0.3">5×10</text><text x="47.9" y="7.0" font-size="7.9">−2</text>
<text x="47.3" y="67.3" text-anchor="end" letter-spacing="0">10</text><text x="47.9" y="62.7" font-size="7.9">−2</text>
<text x="47.3" y="146.9" text-anchor="end" letter-spacing="0">10</text><text x="47.9" y="142.3" font-size="7.9">−3</text>
<text x="47.3" y="226.6" text-anchor="end" letter-spacing="0">10</text><text x="47.9" y="222.0" font-size="7.9">−4</text>
</g>
<g font-family="Liberation Sans, sans-serif" font-weight="bold" font-size="13" fill="#000">
<text transform="translate(210,256.5) scale(1.08,1)" font-style="italic">m</text>
<text x="226.3" y="256.5">(M</text>
<circle cx="246" cy="256.2" r="3.3" fill="none" stroke="#000" stroke-width="1.05"/><circle cx="246" cy="256.2" r="1" fill="#000"/>
<text x="250.6" y="256.5">)</text>
<g transform="translate(13,152.3) rotate(-90)">
<text x="0" y="0" font-style="italic">ψ</text>
<text x="9" y="0">(</text>
<text transform="translate(14.3,0) scale(1.08,1)" font-style="italic">m</text>
<text x="26.6" y="0">)</text>
<text x="35.5" y="0">(M</text>
<circle cx="55.8" cy="0.2" r="3.3" fill="none" stroke="#000" stroke-width="1.05"/><circle cx="55.8" cy="0.2" r="1" fill="#000"/>
<text x="60.0" y="-5.2" font-size="10">−1</text>
<text x="71.8" y="0">)</text>
</g>
</g>
<path d="M68.3,43.3H85" stroke="#ff0000" stroke-width="1.25"/>
<text x="88.6" y="45.9" font-family="Liberation Sans, sans-serif" font-style="italic" font-size="12" fill="#ff2a2a" opacity="0.8">δ</text>
<path d="M68.3,57.7H85" stroke="#ff7f00" stroke-width="1.25"/>
<text x="88.9" y="60.1" font-family="Liberation Mono, monospace" font-size="11.9" fill="#ff8c1a"><tspan opacity="0.65">Δ=</tspan><tspan stroke="#ff8c1a" stroke-width="0.45">0.05</tspan></text>
<path d="M68.3,72.2H85" stroke="#c6be00" stroke-width="1.25"/>
<text x="88.9" y="74.60000000000001" font-family="Liberation Mono, monospace" font-size="11.9" fill="#c6be00"><tspan opacity="0.65">Δ=</tspan><tspan stroke="#c6be00" stroke-width="0.45">0.1</tspan></text>
<path d="M68.3,86.6H85" stroke="#189018" stroke-width="1.25"/>
<text x="88.9" y="89.0" font-family="Liberation Mono, monospace" font-size="11.9" fill="#189018"><tspan opacity="0.65">Δ=</tspan><tspan stroke="#189018" stroke-width="0.45">0.2</tspan></text>
<path d="M68.3,101.1H85" stroke="#0000ff" stroke-width="1.25"/>
<text x="88.9" y="103.5" font-family="Liberation Mono, monospace" font-size="11.9" fill="#0000ff"><tspan opacity="0.65">Δ=</tspan><tspan stroke="#0000ff" stroke-width="0.45">0.3</tspan></text>
</svg></body></html>
